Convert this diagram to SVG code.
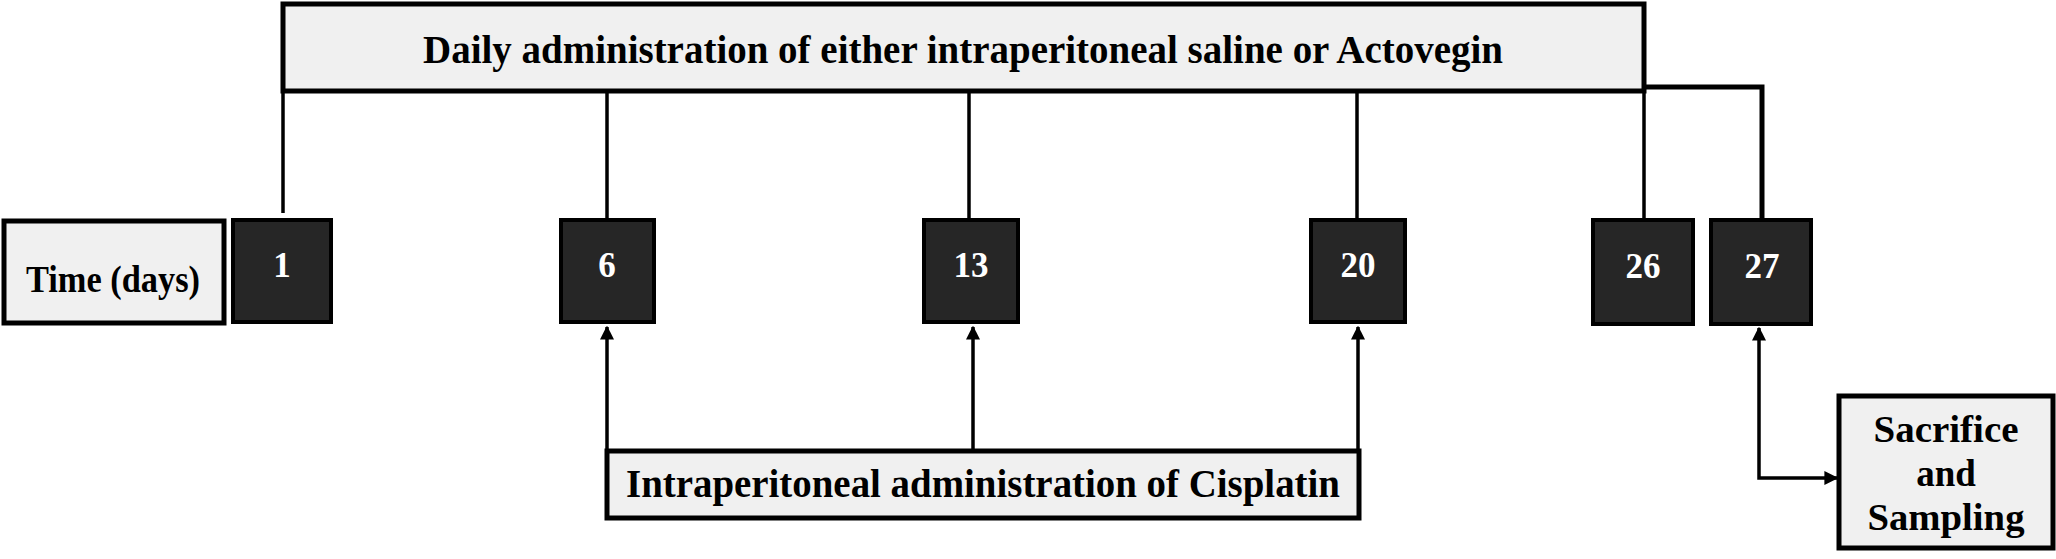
<svg xmlns="http://www.w3.org/2000/svg" width="2056" height="559" viewBox="0 0 2056 559">
<style>
.light{fill:#f0f0f0;stroke:#000;stroke-width:5}
.dark{fill:#262626;stroke:#000;stroke-width:4}
.lbl{font-family:"Liberation Serif","Times New Roman",serif;font-weight:bold;fill:#000;text-anchor:middle}
.num{font-family:"Liberation Serif","Times New Roman",serif;font-weight:bold;fill:#fff;text-anchor:middle;font-size:35px}
.con{fill:none;stroke:#000;stroke-width:3.5}
</style>
<defs>
<marker id="ah" viewBox="0 0 10 10" refX="9" refY="5" markerWidth="4" markerHeight="4" orient="auto-start-reverse" markerUnits="strokeWidth">
<path d="M0,0 L10,5 L0,10 Z" fill="#000"/>
</marker>
</defs>
<g id="connectors">
<line class="con" x1="283" y1="91" x2="283" y2="213"/>
<line class="con" x1="607" y1="91" x2="607" y2="219"/>
<line class="con" x1="969" y1="91" x2="969" y2="219"/>
<line class="con" x1="1357" y1="91" x2="1357" y2="219"/>
<line class="con" x1="1644" y1="91" x2="1644" y2="220"/>
<path class="con" d="M1644 87 H1762 V220" style="stroke-width:5"/>
<line class="con" x1="607" y1="451" x2="607" y2="327" marker-end="url(#ah)"/>
<line class="con" x1="973" y1="451" x2="973" y2="327" marker-end="url(#ah)"/>
<line class="con" x1="1358" y1="451" x2="1358" y2="327" marker-end="url(#ah)"/>
<path class="con" d="M1759 328 V478 H1837" marker-start="url(#ah)" marker-end="url(#ah)"/>
</g>
<g id="daily">
<rect class="light" x="283" y="4" width="1361" height="87"/>
<text class="lbl" x="963" y="63" font-size="41" textLength="1080" lengthAdjust="spacingAndGlyphs">Daily administration of either intraperitoneal saline or Actovegin</text>
</g>
<g id="time">
<rect class="light" x="4" y="221" width="220" height="102"/>
<text class="lbl" x="113" y="292" font-size="37" textLength="174" lengthAdjust="spacingAndGlyphs">Time (days)</text>
</g>
<g id="day1">
<rect class="dark" x="233" y="220" width="98" height="102"/>
<text class="num" x="282" y="277">1</text>
</g>
<g id="day6">
<rect class="dark" x="561" y="220" width="93" height="102"/>
<text class="num" x="607" y="277">6</text>
</g>
<g id="day13">
<rect class="dark" x="924" y="220" width="94" height="102"/>
<text class="num" x="971" y="277">13</text>
</g>
<g id="day20">
<rect class="dark" x="1311" y="220" width="94" height="102"/>
<text class="num" x="1358" y="277">20</text>
</g>
<g id="day26">
<rect class="dark" x="1593" y="220" width="100" height="104"/>
<text class="num" x="1643" y="278">26</text>
</g>
<g id="day27">
<rect class="dark" x="1711" y="220" width="100" height="104"/>
<text class="num" x="1762" y="278">27</text>
</g>
<g id="cisplatin">
<rect class="light" x="607" y="451" width="752" height="67"/>
<text class="lbl" x="983" y="497" font-size="41" textLength="714" lengthAdjust="spacingAndGlyphs">Intraperitoneal administration of Cisplatin</text>
</g>
<g id="sacrifice">
<rect class="light" x="1839" y="396" width="214" height="152"/>
<text class="lbl" x="1946" y="442" font-size="37" textLength="145" lengthAdjust="spacingAndGlyphs">Sacrifice</text>
<text class="lbl" x="1946" y="486" font-size="37">and</text>
<text class="lbl" x="1946" y="530" font-size="37" textLength="157" lengthAdjust="spacingAndGlyphs">Sampling</text>
</g>
</svg>
